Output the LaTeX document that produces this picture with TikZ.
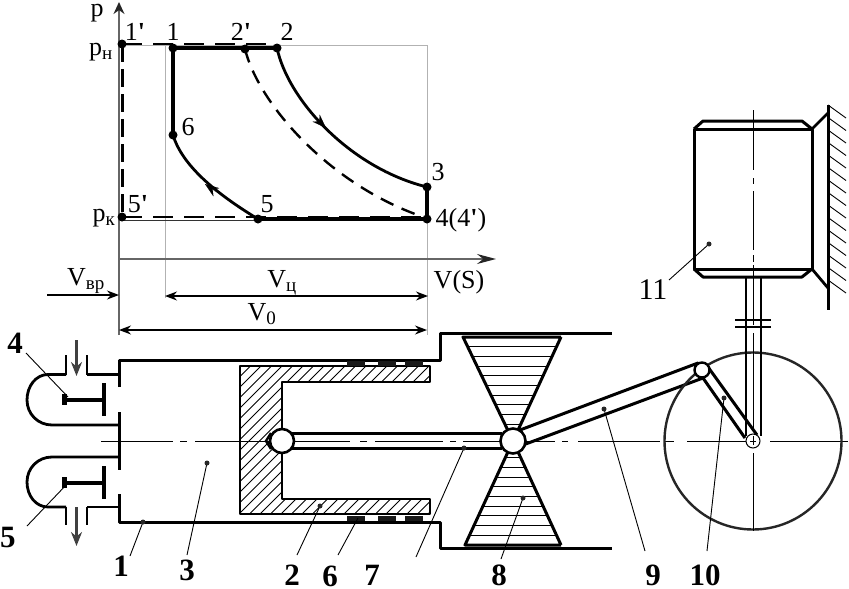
\documentclass[tikz,border=0pt]{standalone}
\usepackage{fontspec}
\setmainfont{Liberation Serif}
\usetikzlibrary{arrows.meta}
\tikzset{
  x=1pt,y=-1pt,
  main/.style={line width=2.8pt,black,line join=round},
  gridline/.style={line width=1pt,black!30},
  axisline/.style={line width=1.5pt,black!60},
  dimline/.style={line width=1.3pt,black,{Stealth[length=12pt,width=9pt]}-{Stealth[length=12pt,width=9pt]}},
  flowline/.style={line width=2.2pt,black!75,-{Stealth[length=14pt,width=11pt]}},
  cycle/.style={line width=4pt,black,line join=round},
  cyclecurve/.style={line width=2.8pt,black},
  cycledash/.style={line width=2.4pt,black,dash pattern=on 14pt off 9pt},
  ptdot/.style={circle,fill=black,inner sep=0pt,minimum size=9pt},
  leaderdot/.style={circle,fill=black!85,inner sep=0pt,minimum size=5pt},
  leader/.style={line width=0.9pt,black},
  axis label/.style={inner sep=0pt,font=\fontsize{26}{28}\selectfont},
  part label/.style={inner sep=0pt,font=\fontsize{31}{33}\selectfont\bfseries},
  center/.style={line width=0.9pt,black},
  hatchline/.style={line width=0.9pt,black}
}
\newcommand{\sbs}[1]{\textsubscript{\fontsize{19}{20}\selectfont #1}}
\newcommand{\prm}{{\bfseries\textquotesingle}}
\begin{document}
\begin{tikzpicture}
\useasboundingbox (0,0) rectangle (849,589);
% ---- pV diagram grid
\coordinate (gTL) at (119,45); \coordinate (gTR) at (427,45);
\coordinate (gV) at (165,45); \coordinate (gVb) at (165,298);
\coordinate (gBR) at (427,335); \coordinate (gK) at (119,220); \coordinate (gKr) at (427,220);
\draw[gridline] (gTL) -- (gTR) -- (gBR);
\draw[gridline] (gV) -- (gVb);
\draw[line width=0.9pt,black!80] (gK) -- (gKr);
\coordinate (pO) at (119,335); \coordinate (pT) at (119,2);
\coordinate (vO) at (119,259); \coordinate (vT) at (496,259);
\draw[axisline,-{Stealth[length=12pt,width=11pt,black!85]}] (pO) -- (pT);
\draw[axisline,-{Stealth[length=19pt,width=10pt,black!85]}] (vO) -- (vT);
% ---- cycle points
\node[ptdot] (n1p) at (122,44) {};
\node[ptdot] (n1) at (173,48) {};
\node[ptdot] (n2p) at (245,49) {};
\node[ptdot] (n2) at (277,48) {};
\node[ptdot] (n6) at (173,135) {};
\node[ptdot] (n5) at (258,219) {};
\node[ptdot] (n3) at (427,187) {};
\node[ptdot] (n4) at (427,219) {};
\node[ptdot] (n5p) at (122,217) {};
\draw[cycle] (n6.center) -- (n1.center) -- (n2.center);
\draw[cycle] (n5.center) -- (n4.center) -- (n3.center);
\draw[cyclecurve] (n2.center) .. controls (288,100) and (350,168) .. (n3.center);
\draw[cyclecurve] (n5.center) .. controls (215,193) and (182,165) .. (n6.center);
\draw[cycledash] (n2p.center) .. controls (258,102) and (325,180) .. (415,214);
\draw[cycledash,dash pattern=on 20pt off 11pt] (n1p.center) -- (n2.center |- n1p);
\draw[cycledash,dash pattern=on 20pt off 11pt] (n5p.center) -- (n4.center |- n5p);
\draw[cycledash,line width=3pt,dash pattern=on 18pt off 7pt] (n1p.center) -- (n5p.center);
\coordinate (a1) at (318,120); \coordinate (a1e) at (326,128);
\draw[-{Stealth[length=14pt,width=10pt]},line width=0.1pt] (a1) -- (a1e);
\coordinate (a2) at (216,192); \coordinate (a2e) at (205,184);
\draw[-{Stealth[length=14pt,width=10pt]},line width=0.1pt] (a2) -- (a2e);
% ---- dimensions
\coordinate (dVbrA) at (47,295); \coordinate (dVbrB) at (119,295);
\coordinate (dVcA) at (165,296); \coordinate (dVcB) at (428,296);
\coordinate (dV0A) at (119,330); \coordinate (dV0B) at (427,330);
\draw[line width=1.3pt,-{Stealth[length=12pt,width=9pt]}] (dVbrA) -- (dVbrB);
\draw[dimline] (dVcA) -- (dVcB);
\draw[dimline] (dV0A) -- (dV0B);
% ---- axis labels
\node[axis label] (tp) at (97,13) {p};
\node[axis label] (tpn) at (101,52) {p\sbs{н}};
\node[axis label] (tpk) at (104,218) {p\sbs{к}};
\node[axis label] (t1p) at (135,32) {1\prm};
\node[axis label] (t1) at (173,32) {1};
\node[axis label] (t2p) at (241,32) {2\prm};
\node[axis label] (t2) at (287,32) {2};
\node[axis label] (t6) at (188,127) {6};
\node[axis label] (t5p) at (138,204) {5\prm};
\node[axis label] (t5) at (267,204) {5};
\node[axis label] (t3) at (438,172) {3};
\node[axis label] (t4) at (461,220) {4(4\prm)};
\node[axis label] (tVs) at (459,282) {V(S)};
\node[axis label] (tVbr) at (86,281) {V\sbs{вр}};
\node[axis label] (tVc) at (282,283) {V\sbs{ц}};
\node[axis label] (tV0) at (262,314) {V\sbs{0}};
% ---- centre line
\foreach \a/\b in {101/173,180/187,195/350,360/367,375/443,450/456,463/555,562/568,578/660,665/674,687/760,770/848}
  \draw[center] (\a,441) -- (\b,441);
% ---- cylinder
\draw[main,line width=3pt] (119,387) -- (119,360) -- (440,360) -- (440,333) -- (612,333);
\draw[main,line width=3pt] (119,494) -- (119,522) -- (440,522) -- (440,548) -- (612,548);
\draw[main,line width=3pt] (119,412) -- (119,470);
% ---- intake valve port
\draw[main] (66,374.5) -- (48,374.5) .. controls (36,374.5) and (27,386) .. (27,400) .. controls (27,414) and (38,425) .. (52,425) -- (119,425);
\draw[main] (87,374.5) -- (119,374.5);
\draw[main] (66,355) -- (66,375);
\draw[main] (87,355) -- (87,375);
\coordinate (inA) at (76.5,340); \coordinate (inB) at (76.5,376);
\draw[flowline] (inA) -- (inB);
\draw[line width=4pt] (64,400) -- (104,400);
\draw[line width=4pt] (104,383) -- (104,416);
\draw[line width=4.5pt] (64.5,394) -- (64.5,405);
% ---- exhaust valve port
\draw[main] (66,507) -- (48,507) .. controls (36,507) and (27,496) .. (27,482) .. controls (27,468) and (38,457) .. (52,457) -- (119,457);
\draw[main] (87,507) -- (119,507);
\draw[main] (66,507) -- (66,525);
\draw[main] (87,507) -- (87,525);
\coordinate (outA) at (76.5,507); \coordinate (outB) at (76.5,546);
\draw[flowline] (outA) -- (outB);
\draw[line width=4pt] (64,483) -- (104,483);
\draw[line width=4pt] (104,466) -- (104,499);
\draw[line width=4.5pt] (64.5,477) -- (64.5,488);
% ---- piston
\begin{scope}
\clip (240,366) -- (430,366) -- (430,382) -- (282,382) -- (282,499) -- (430,499) -- (430,514) -- (240,514) -- cycle;
\foreach \c in {240,250.5,...,700}
  \draw[hatchline] (\c,366) -- (\c-150,516);
\end{scope}
\draw[main] (240,366) -- (430,366) -- (430,382) -- (282,382) -- (282,499) -- (430,499) -- (430,514) -- (240,514) -- cycle;
% rings
\foreach \a/\b in {347/365,378/396,405/423} {
  \draw[line width=5pt,black!90] (\a,363) -- (\b,363);
  \draw[line width=5pt,black!90] (\a,518) -- (\b,518);
}
% ---- crosshead wedges
\begin{scope}
\clip (463,337) -- (561,337) -- (513,441) -- cycle;
\foreach \y in {337,346.7,...,441} \draw[hatchline] (460,\y) -- (565,\y);
\end{scope}
\begin{scope}
\clip (465,545) -- (561,545) -- (513,441) -- cycle;
\foreach \y in {545,535.3,...,441} \draw[hatchline] (460,\y) -- (565,\y);
\end{scope}
\draw[main,line width=3pt] (561,337) -- (463,337) -- (513,441) -- (561,337);
\draw[main,line width=3pt] (561,545) -- (465,545) -- (513,441) -- (561,545);
% ---- rod
\fill[white] (294,433) rectangle (500,448);
\draw[main,line width=3pt] (290,433) -- (502,433);
\draw[main,line width=3pt] (290,448) -- (502,448);
\foreach \a/\b in {295/350,360/367,375/443,450/456,463/500}
  \draw[center] (\a,441) -- (\b,441);
% ---- connecting rod and crank
\node[circle,draw=black,line width=2.6pt,fill=white,minimum size=24pt,inner sep=0pt] (jPin) at (282,441) {};
\coordinate (jTip) at (266,441);
\draw[line width=2.4pt,black] (271,433) -- (jTip) -- (271,449);
\draw[main,line width=3pt,line cap=round] (520,430) -- (698,363);
\draw[main,line width=3pt,line cap=round] (523,445) -- (703,378);
\draw[main,line width=3pt] (708,367) -- (757,435);
\draw[main,line width=3pt] (703,378) -- (745,438);
\node[circle,draw=black,line width=2.6pt,fill=white,minimum size=25pt,inner sep=0pt] (jCross) at (513,441) {};
% ---- flywheel
\node[circle,draw=black!85,line width=2.4pt,minimum size=177pt,inner sep=0pt] (wheel) at (753,441) {};
\coordinate (wBot) at (753,453);
\draw[center] (wBot) -- (wheel.south);
% ---- shaft
\draw[main] (746,277) -- (746,436);
\draw[main] (761,277) -- (761,436);
\draw[main] (735,320) -- (771,320);
\draw[main] (735,327) -- (771,327);
\foreach \a/\b in {110/170,178/184,191/250,255/262,265/325,333/430}
  \draw[center] (753,\a) -- (753,\b);
\node[circle,draw=black,line width=1pt,fill=white,minimum size=14pt,inner sep=0pt] (jCrank) at (753,441) {};
\draw[center] (753,436) -- (753,445);
\draw[center] (750,441) -- (756,441);
\node[circle,draw=black,line width=2.4pt,fill=white,minimum size=15pt,inner sep=0pt] (jCrankPin) at (702,370) {};
% ---- motor
\draw[main,line width=3pt] (694,129) -- (812,129) -- (812,269) -- (694,269) -- cycle;
\draw[main,line width=3pt] (694,129) -- (703,121) -- (802,121) -- (812,129);
\draw[main,line width=3pt] (694,269) -- (703,277) -- (802,277) -- (812,269);
\coordinate (wT) at (828,105); \coordinate (wB) at (828,310);
\draw[main,line width=3pt] (wT) -- (wB);
\draw[main] (812,129) -- (828,113);
\draw[main] (812,269) -- (828,288);
\foreach \y in {105,117.5,...,290} \draw[line width=0.9pt] (828,\y) -- (846,\y+13);
% ---- part labels and leaders
\node[part label] (p4) at (15,343) {4};
\node[part label] (p5) at (8,537) {5};
\node[part label] (p1) at (121,566) {1};
\node[part label] (p3) at (187,570) {3};
\node[part label] (p2) at (292,575) {2};
\node[part label] (p6) at (330,576) {6};
\node[part label] (p7) at (372,575) {7};
\node[part label] (p8) at (499,575) {8};
\node[part label] (p9) at (653,575) {9};
\node[part label] (p10) at (705,575) {10};
\node[part label,font=\fontsize{30}{32}\selectfont] (p11) at (653,290) {11};
\foreach \nm/\sx/\sy/\ex/\ey/\dt in {
  4/26/353/68/397/0,
  5/27/526/68/483/0,
  1/130/556/143/522/1,
  3/187/555/207/463/1,
  2/297/555/320/506/1,
  6/338/555/358/518/0,
  7/416/557/464/448/1,
  8/501/559/523/498/1,
  9/645/551/604/409/1,
  10/707/551/724/398/1,
  11/669/280/709/244/1} {
  \coordinate (ls\nm) at (\sx,\sy);
  \coordinate (le\nm) at (\ex,\ey);
  \draw[leader] (ls\nm) -- (le\nm);
  \ifnum\dt=1 \node[leaderdot] (ld\nm) at (le\nm) {}; \fi
}
\end{tikzpicture}
\end{document}
